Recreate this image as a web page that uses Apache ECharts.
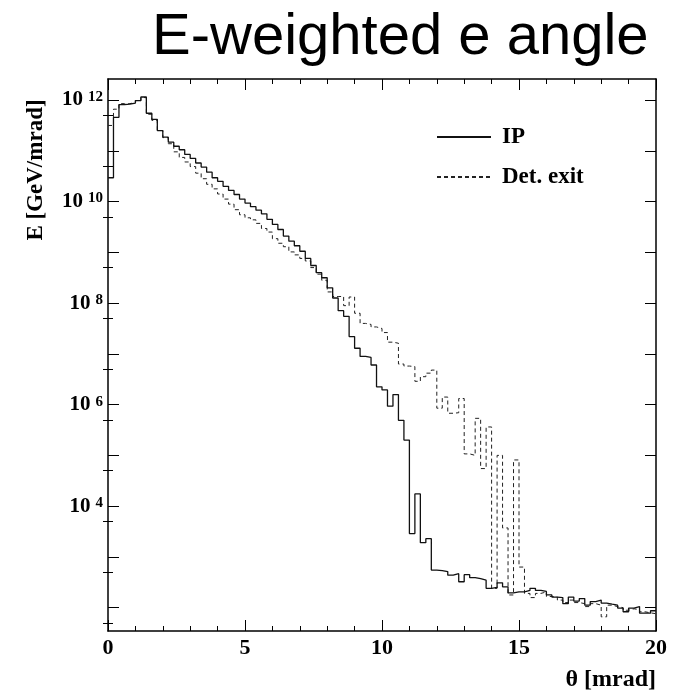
<!DOCTYPE html>
<html><head><meta charset="utf-8">
<script src="https://cdn.jsdelivr.net/npm/echarts@6/dist/echarts.min.js"></script>
<style>html,body{margin:0;padding:0;background:#fff}#c{width:675px;height:693px}</style>
</head><body><div id="c"></div>
<script>
// bin low edges [mrad], bin width 0.2 mrad
const thetaLowEdges = [0,0.2,0.4,0.6,0.8,1.0,1.2,1.4,1.6,1.8,2.0,2.2,2.4,2.6,2.8,3.0,3.2,3.4,3.6,3.8,
  4.0,4.2,4.4,4.6,4.8,5.0,5.2,5.4,5.6,5.8,6.0,6.2,6.4,6.6,6.8,7.0,7.2,7.4,7.6,7.8,
  8.0,8.2,8.4,8.6,8.8,9.0,9.2,9.4,9.6,9.8,10.0,10.2,10.4,10.6,10.8,11.0,11.2,11.4,11.6,11.8,
  12.0,12.2,12.4,12.6,12.8,13.0,13.2,13.4,13.6,13.8,14.0,14.2,14.4,14.6,14.8,15.0,15.2,15.4,15.6,15.8,
  16.0,16.2,16.4,16.6,16.8,17.0,17.2,17.4,17.6,17.8,18.0,18.2,18.4,18.6,18.8,19.0,19.2,19.4,19.6,19.8];
const thetaMax = 20;

// E [GeV/mrad] per bin, "IP"
const ipValues = [2.95e10,4.57e11,8.13e11,8.32e11,8.71e11,9.77e11,1.15e12,5.50e11,4.17e11,2.51e11,
  1.86e11,1.48e11,1.23e11,1.05e11,8.51e10,7.08e10,5.75e10,4.79e10,3.80e10,2.95e10,
  2.51e10,2.00e10,1.66e10,1.38e10,1.12e10,9.33e9,7.94e9,6.76e9,5.75e9,4.47e9,
  3.55e9,2.82e9,2.09e9,1.66e9,1.35e9,1.05e9,7.59e8,5.50e8,3.98e8,3.16e8,
  2.00e8,1.26e8,7.08e7,5.50e7,2.19e7,1.29e7,8.91e6,8.51e6,6.03e6,2.24e6,
  1.95e6,9.33e5,1.58e6,4.90e5,2.00e5,2.88e3,1.74e4,1.91e3,2.29e3,550,
  537,513,437,468,324,447,389,372,347,240,
  251,309,257,195,204,204,219,240,219,209,
  178,162,158,120,162,135,151,112,132,141,
  123,117,112,98,83,98,105,78,78,87];

// E [GeV/mrad] per bin, "Det. exit"
const detExitValues = [3.16e11,6.61e11,8.51e11,8.51e11,8.91e11,9.77e11,1.12e12,5.25e11,3.98e11,2.51e11,
  1.82e11,1.38e11,9.55e10,7.41e10,6.03e10,4.90e10,3.63e10,2.82e10,2.19e10,1.78e10,
  1.41e10,1.12e10,8.91e9,6.92e9,5.50e9,4.79e9,4.37e9,3.72e9,2.95e9,2.51e9,
  1.86e9,1.51e9,1.29e9,1.02e9,8.91e8,7.59e8,6.76e8,5.01e8,3.72e8,2.82e8,
  1.66e8,1.35e8,1.35e8,8.91e7,1.32e8,6.31e7,3.98e7,3.80e7,3.39e7,3.16e7,
  2.63e7,1.70e7,1.62e7,6.31e6,5.75e6,5.62e6,2.88e6,3.55e6,4.17e6,4.79e6,
  8.51e5,1.41e6,6.76e5,6.92e5,1.32e6,1.07e5,1.00e5,5.37e5,5.50e4,3.63e5,
  240,1.00e5,3.72e3,178,8.13e4,631,191,158,191,204,
  166,162,141,126,141,126,120,105,120,112,
  66,112,105,100,89,95,91,83,79,76];

const seriesNames = ['IP', 'Det. exit'];
const xTickLabels = ['0','5','10','15','20'];
const yDecadeTicks = [1e2,1e3,1e4,1e5,1e6,1e7,1e8,1e9,1e10,1e11,1e12];
const yHalfTicks = [50,5e2,5e3,5e4,5e5,5e6,5e7,5e8,5e9,5e10,5e11];
const yLabelValues = [1e4,1e6,1e8,1e10,1e12];
const yMin = 34.7, yMax = 2.6e12;

function histData(vals){
  const d = thetaLowEdges.map((x,i)=>[x, vals[i]]);
  d.push([thetaMax, vals[vals.length-1]]);
  return d;
}

const SERIF = '"Liberation Serif","Times New Roman",serif';
const black = '#000';
const frameLine = {show:true, onZero:false, lineStyle:{color:black, width:1.5}};
const tickStyle = {color:black, width:1};

const xBase = {type:'value', min:0, max:thetaMax, interval:5, splitLine:{show:false}, minorSplitLine:{show:false},
  axisTick:{show:true, inside:true, length:11, lineStyle:tickStyle},
  minorTick:{show:true, splitNumber:5, length:5, lineStyle:tickStyle}};

const yBase = {type:'log', logBase:10, min:yMin, max:yMax, splitLine:{show:false}, minorTick:{show:false}, axisLabel:{show:false}};

const chart = echarts.init(document.getElementById('c'), null, {renderer:'canvas'});
chart.setOption({
  animation:false,
  backgroundColor:'#fff',
  title:{text:'E-weighted e angle', left:147, top:4,
    textStyle:{fontFamily:'"Liberation Sans",Arial,sans-serif', fontSize:58, fontWeight:'normal', color:black}},
  legend:{orient:'vertical', left:431, top:120, itemWidth:54, itemHeight:14, itemGap:16,
    itemStyle:{color:'rgba(0,0,0,0)', borderColor:'rgba(0,0,0,0)', borderWidth:0},
    textStyle:{fontFamily:SERIF, fontWeight:'bold', fontSize:23, lineHeight:24, color:black, padding:[0,0,0,6]},
    data:seriesNames},
  grid:{left:108, right:19, top:79, bottom:62, outerBoundsMode:'none'},
  xAxis:[
    Object.assign({}, xBase, {position:'bottom', axisLine:frameLine,
      axisLabel:{show:true, margin:6, color:black, fontFamily:SERIF, fontWeight:'bold', fontSize:22,
        formatter:(v)=>xTickLabels[Math.round(v/5)]}}),
    Object.assign({}, xBase, {position:'top', axisLine:frameLine, axisLabel:{show:false}})
  ],
  yAxis:[
    Object.assign({}, yBase, {position:'left', axisLine:frameLine,
      axisTick:{show:true, inside:true, length:11, customValues:yDecadeTicks, lineStyle:tickStyle},
      axisLabel:{show:true, customValues:yLabelValues, margin:5, color:black,
        formatter:(v)=>'{b|10}{s|'+Math.round(Math.log10(v))+'}',
        rich:{
          b:{fontFamily:SERIF, fontWeight:'bold', fontSize:21, lineHeight:21, verticalAlign:'bottom', color:black},
          s:{fontFamily:SERIF, fontWeight:'bold', fontSize:15, lineHeight:15, verticalAlign:'top', padding:[0,0,14,5], color:black}
        }}}),
    Object.assign({}, yBase, {position:'right', axisLine:frameLine,
      axisTick:{show:true, inside:true, length:11, customValues:yDecadeTicks, lineStyle:tickStyle}}),
    Object.assign({}, yBase, {position:'left', axisLine:{show:false},
      axisTick:{show:true, inside:true, length:5, customValues:yHalfTicks, lineStyle:tickStyle}}),
    Object.assign({}, yBase, {position:'right', axisLine:{show:false},
      axisTick:{show:true, inside:true, length:5, customValues:yHalfTicks, lineStyle:tickStyle}})
  ],
  graphic:[
    {type:'text', x:36, y:170, rotation:Math.PI/2,
      style:{text:'E [GeV/mrad]', align:'center', verticalAlign:'middle', fontFamily:SERIF, fontWeight:'bold', fontSize:23, fill:black}},
    {type:'text', x:656, y:680,
      style:{text:'θ [mrad]', align:'right', verticalAlign:'middle', fontFamily:SERIF, fontWeight:'bold', fontSize:24, fill:black}}
  ],
  series:[
    {name:seriesNames[0], type:'line', step:'end', xAxisIndex:0, yAxisIndex:0, data:histData(ipValues),
      symbol:'none', lineStyle:{color:'#111', width:1.3, type:'solid'}, itemStyle:{color:'#111'}, z:3},
    {name:seriesNames[1], type:'line', step:'end', xAxisIndex:0, yAxisIndex:0, data:histData(detExitValues),
      symbol:'none', lineStyle:{color:'#222', width:1, type:[4,3]}, itemStyle:{color:'#222'}, z:2}
  ]
});
</script></body></html>
